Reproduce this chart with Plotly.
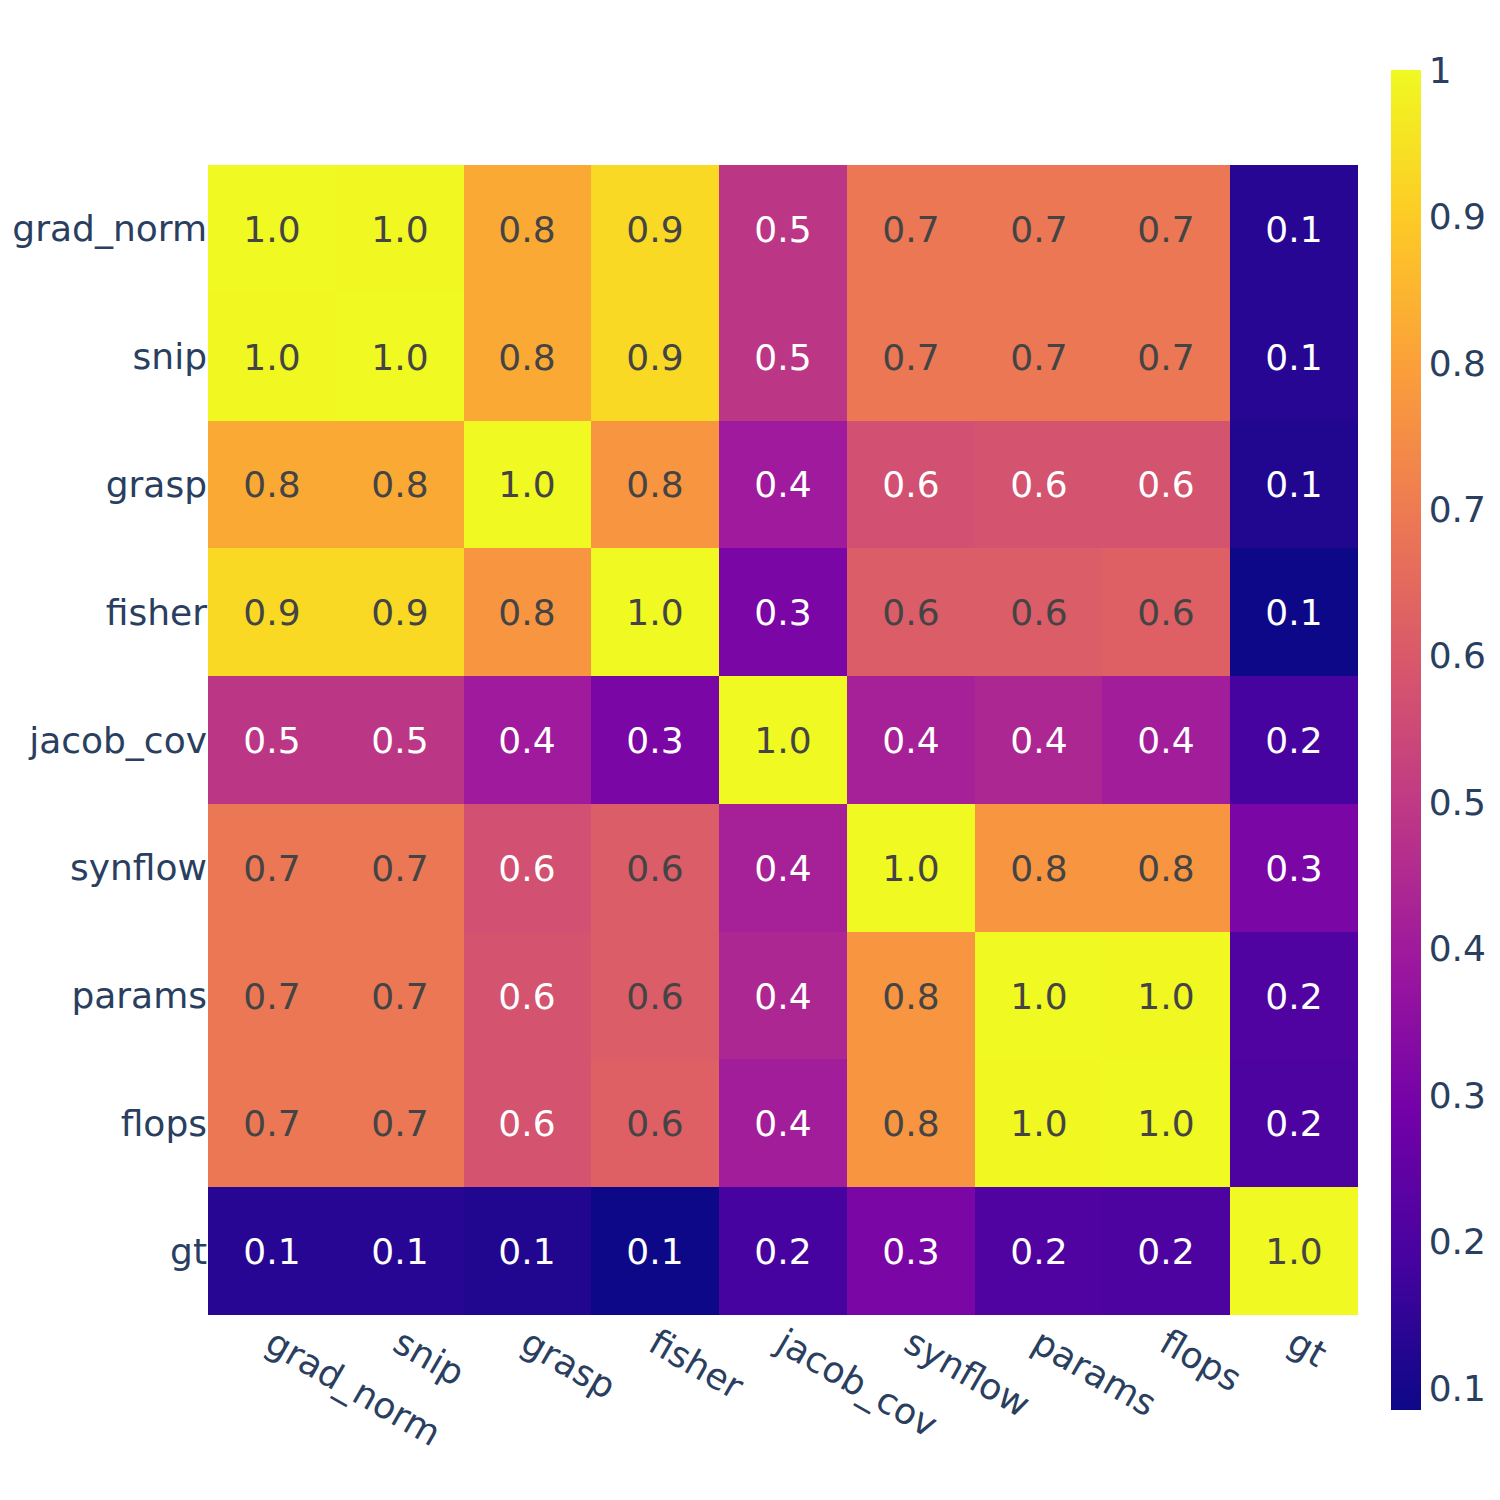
import plotly.graph_objects as go

labels = ["grad_norm", "snip", "grasp", "fisher", "jacob_cov", "synflow", "params", "flops", "gt"]

row_grad_norm = [1.000, 0.995, 0.82, 0.93, 0.49, 0.69, 0.69, 0.69, 0.13]
row_snip      = [0.995, 1.000, 0.82, 0.93, 0.49, 0.69, 0.69, 0.69, 0.13]
row_grasp     = [0.82, 0.82, 1.000, 0.77, 0.40, 0.57, 0.58, 0.58, 0.12]
row_fisher    = [0.93, 0.93, 0.77, 1.000, 0.31, 0.61, 0.61, 0.62, 0.085]
row_jacob_cov = [0.49, 0.49, 0.40, 0.31, 1.000, 0.42, 0.44, 0.41, 0.19]
row_synflow   = [0.69, 0.69, 0.57, 0.61, 0.42, 1.000, 0.77, 0.77, 0.31]
row_params    = [0.69, 0.69, 0.58, 0.61, 0.44, 0.77, 1.000, 0.995, 0.21]
row_flops     = [0.69, 0.69, 0.58, 0.62, 0.41, 0.77, 0.995, 1.000, 0.20]
row_gt        = [0.13, 0.13, 0.12, 0.085, 0.19, 0.31, 0.21, 0.20, 1.000]

z = [row_grad_norm, row_snip, row_grasp, row_fisher, row_jacob_cov,
     row_synflow, row_params, row_flops, row_gt]

fig = go.Figure(
    go.Heatmap(
        z=z,
        x=labels,
        y=labels,
        colorscale="Plasma",
        texttemplate="%{z:.1f}",
        colorbar=dict(thickness=30),
    )
)

fig.update_layout(
    template="plotly_white",
    width=1500,
    height=1500,
    font=dict(family="DejaVu Sans", size=36, color="#2a3f5f"),
    margin=dict(t=52, b=88, l=200, r=150),
    xaxis=dict(tickangle=30, constrain="domain", showgrid=False, zeroline=False),
    yaxis=dict(autorange="reversed", scaleanchor="x", constrain="domain",
               showgrid=False, zeroline=False, automargin=False),
)

fig.write_html("out.html")
